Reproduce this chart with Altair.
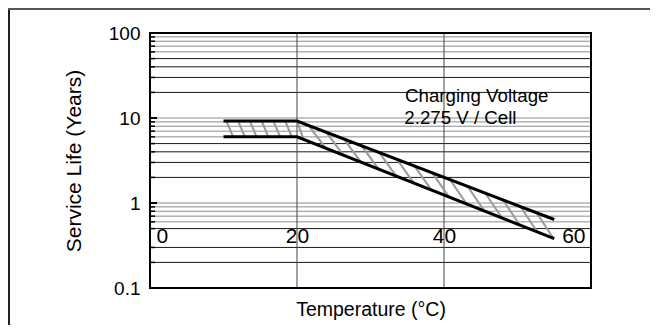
import altair as alt
import pandas as pd
import numpy as np

# --- data ---
upper_t = [10, 20, 55]
upper_v = [9.2, 9.2, 0.64]
lower_t = [10, 20, 55]
lower_v = [6.0, 6.0, 0.38]

x_ticks = [0, 20, 40, 60]
y_ticks = [0.1, 1, 10, 100]
x_grid = [20, 40]
grid_dark = [20, 30, 40, 50, 2, 3, 4, 5, 0.2, 0.3, 0.5]
grid_gray = [60, 70, 80, 90, 10, 6, 7, 8, 9, 1, 0.6, 0.7, 0.8, 0.9]
minor_ticks = [20, 30, 40, 50, 60, 70, 80, 90, 2, 3, 4, 5, 6, 7, 8, 9,
               0.2, 0.3, 0.5, 0.6, 0.7, 0.8, 0.9]
major_ticks = [1, 10]

note_text = ["Charging Voltage", "2.275 V / Cell"]
note_t = [34.7, 34.6]
note_v = [15.6, 8.5]

# hatch starting temperatures on the upper line and their shift to the lower line
hatch_flat_start = [10.4, 12.0, 13.6, 15.2, 16.8, 18.4, 20.0]
hatch_diag_start = [21.6, 24.0, 26.4, 28.8, 31.2, 33.6, 36.0, 38.4, 40.8,
                    43.2, 45.6, 48.0, 50.4, 52.6]
hatch_flat_shift = 0.9
hatch_diag_shift = 2.3

FONT = "Liberation Sans"

lines_df = pd.DataFrame({
    "t": upper_t + lower_t,
    "v": upper_v + lower_v,
    "s": ["upper"] * len(upper_t) + ["lower"] * len(lower_t),
})


def on_line(ts, vs, t):
    return float(10 ** np.interp(t, ts, np.log10(vs)))


rows = []
for starts, shift in ((hatch_flat_start, hatch_flat_shift), (hatch_diag_start, hatch_diag_shift)):
    for t0 in starts:
        t1 = min(t0 + shift, lower_t[-1])
        rows.append({"t0": t0, "v0": on_line(upper_t, upper_v, t0),
                     "t1": t1, "v1": on_line(lower_t, lower_v, t1)})
hatch_df = pd.DataFrame(rows)

xs = alt.Scale(domain=[0, 60], nice=False, zero=False)
ys = alt.Scale(type="log", domain=[0.1, 100], nice=False)

base_x_axis = alt.Axis(
    values=x_ticks, grid=False, domain=False, ticks=False, tickSize=0,
    labelPadding=0, labelBaseline="alphabetic", labelFlush=True, labelFlushOffset=-6,
    labelFontSize=21, labelFont=FONT, labelColor="black", offset=-46,
    title="Temperature (°C)", titleFont=FONT, titleFontSize=19.5, titleFontWeight="normal",
    titleColor="black", titleX=220.5, titleY=73, titleBaseline="alphabetic", titleAlign="center",
)
base_y_axis = alt.Axis(
    values=y_ticks, format="~g", grid=False, domain=False, ticks=False, tickSize=0,
    labelPadding=10, labelFontSize=19, labelFont=FONT, labelColor="black",
    labelBaseline="middle",
    title="Service Life (Years)", titleFont=FONT, titleFontSize=21, titleFontWeight="normal",
    titleColor="black", titleX=-70, titleY=127.5, titleBaseline="alphabetic", titleAlign="center",
    titleAngle=270,
)

# y grid lines
gd = alt.Chart(pd.DataFrame({"v": grid_dark})).mark_rule(color="#1a1a1a", strokeWidth=1).encode(
    y=alt.Y("v:Q", scale=ys, axis=base_y_axis)
)
gg = alt.Chart(pd.DataFrame({"v": grid_gray})).mark_rule(color="#8c8c8c", strokeWidth=1).encode(
    y=alt.Y("v:Q", scale=ys)
)
gx = alt.Chart(pd.DataFrame({"t": x_grid})).mark_rule(color="#444", strokeWidth=1).encode(
    x=alt.X("t:Q", scale=xs, axis=base_x_axis)
)
# inward ticks on the left edge
mt = alt.Chart(pd.DataFrame({"v": minor_ticks})).mark_rule(color="black", strokeWidth=1.5).encode(
    y=alt.Y("v:Q", scale=ys), x=alt.value(0), x2=alt.value(5)
)
Mt = alt.Chart(pd.DataFrame({"v": major_ticks})).mark_rule(color="black", strokeWidth=2).encode(
    y=alt.Y("v:Q", scale=ys), x=alt.value(0), x2=alt.value(7)
)

hatch = alt.Chart(hatch_df).mark_rule(color="#999", strokeWidth=2).encode(
    x=alt.X("t0:Q", scale=xs), x2="t1:Q",
    y=alt.Y("v0:Q", scale=ys), y2="v1:Q",
)

curves = alt.Chart(lines_df).mark_line(color="black", strokeWidth=3).encode(
    x=alt.X("t:Q", scale=xs), y=alt.Y("v:Q", scale=ys), detail="s:N"
)

note = alt.Chart(pd.DataFrame({"t": note_t, "v": note_v, "txt": note_text})).mark_text(
    align="left", baseline="alphabetic", font=FONT, fontSize=18.7, color="black"
).encode(x=alt.X("t:Q", scale=xs), y=alt.Y("v:Q", scale=ys), text="txt:N")

# plot frame
box = alt.Chart(pd.DataFrame({"k": [0]})).mark_rect(
    fill=None, stroke="black", strokeWidth=2, fillOpacity=0
).encode(x=alt.value(0), x2=alt.value(441), y=alt.value(0), y2=alt.value(255))

# outer figure frame (left and top edges)
frame_left = alt.Chart(pd.DataFrame({"k": [0]})).mark_rule(color="#222", strokeWidth=2).encode(
    x=alt.value(-141), y=alt.value(-25), y2=alt.value(292)
)
frame_top = alt.Chart(pd.DataFrame({"k": [0]})).mark_rule(color="#555", strokeWidth=2).encode(
    x=alt.value(-142), x2=alt.value(500), y=alt.value(-24)
)

chart = alt.layer(gg, gd, gx, hatch, curves, mt, Mt, note, box, frame_left, frame_top).properties(
    width=441, height=255,
    autosize=alt.AutoSizeParams(type="none"),
    padding={"left": 142, "top": 25, "right": 59, "bottom": 37},
    background="white",
).configure_view(stroke=None)

chart.save("out.html", embed_options={"renderer": "svg", "actions": False})
